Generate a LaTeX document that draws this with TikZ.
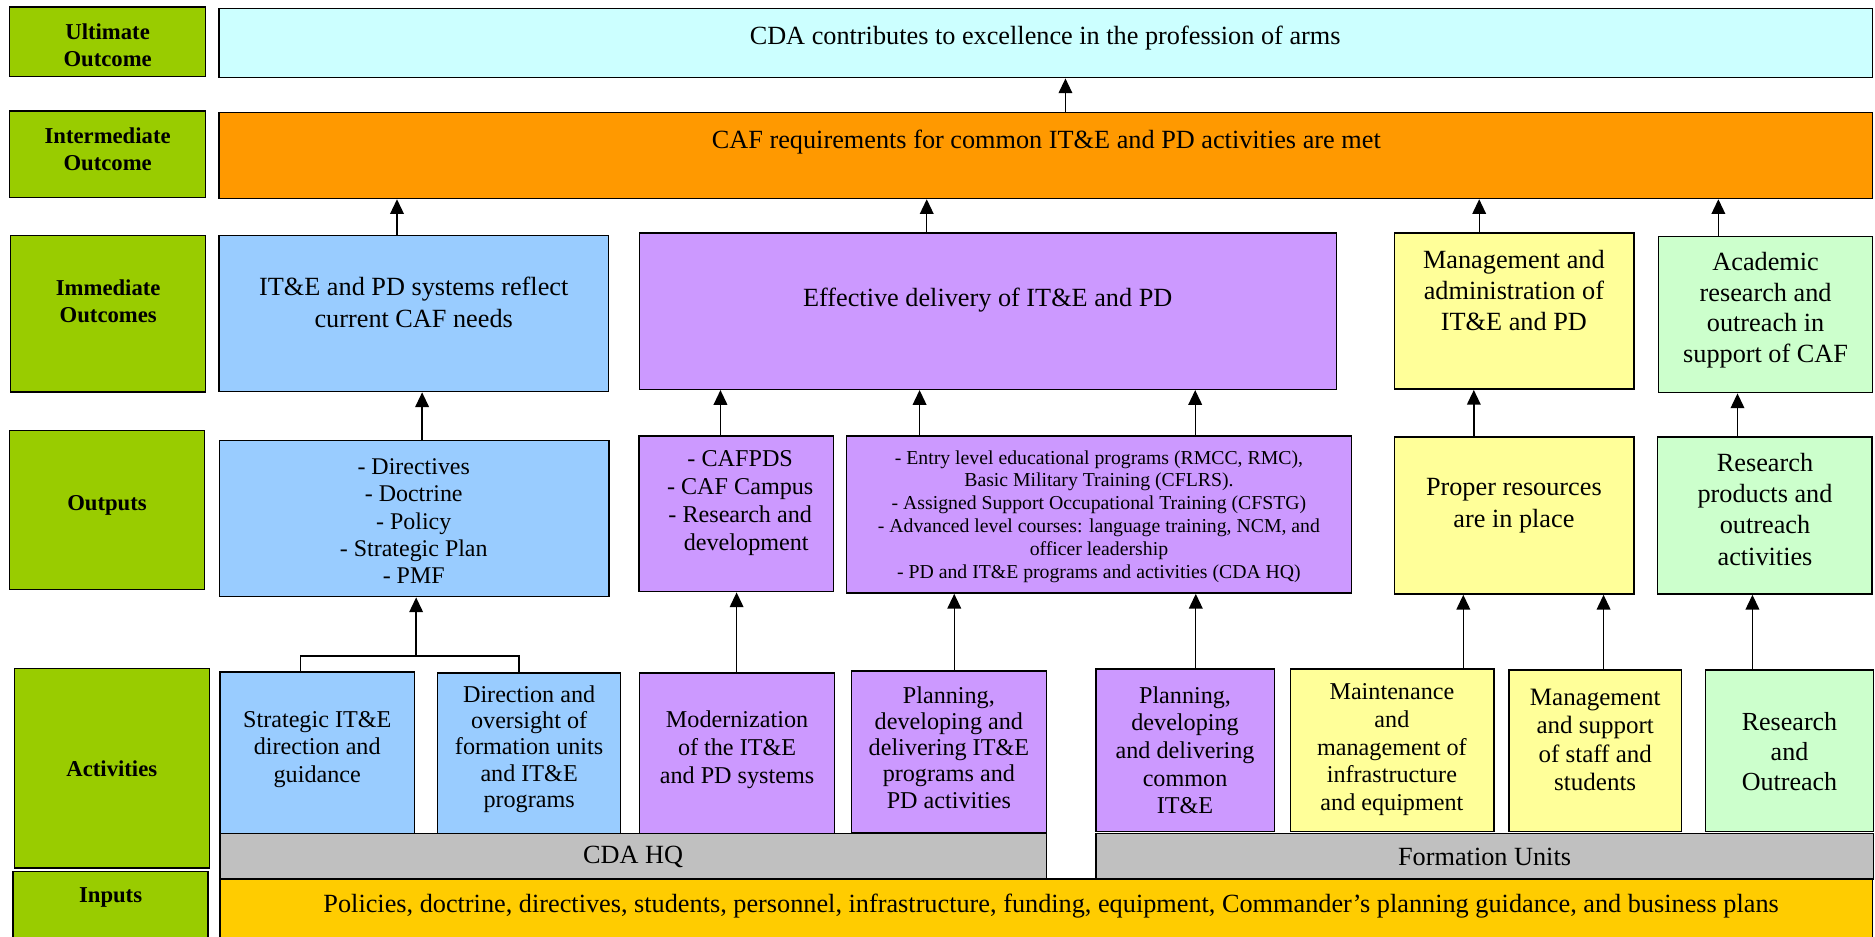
\documentclass[tikz,border=0pt]{standalone}
\usepackage{fontspec}
\IfFontExistsTF{LiberationSerif-Regular.ttf}
  {\setmainfont{LiberationSerif}[Extension=.ttf, UprightFont=*-Regular, BoldFont=*-Bold, ItalicFont=*-Italic, BoldItalicFont=*-BoldItalic]}
  {\setmainfont{Liberation Serif}[UprightFont={* Regular}, BoldFont={* Bold}]}
\usetikzlibrary{arrows.meta,fit}

\definecolor{lblgreen}{HTML}{99CC00}
\definecolor{ultcyan}{HTML}{CCFFFF}
\definecolor{intorange}{HTML}{FF9900}
\definecolor{sysblue}{HTML}{99CCFF}
\definecolor{dlvpurple}{HTML}{CC99FF}
\definecolor{mgtyellow}{HTML}{FFFF99}
\definecolor{resgreen}{HTML}{CCFFCC}
\definecolor{unitgray}{HTML}{C0C0C0}
\definecolor{inpgold}{HTML}{FFCC00}

\tikzset{
  box/.style={draw, line width=0.7pt, inner sep=0pt},
  lbl/.style={box, fill=lblgreen},
  lbltxt/.style={align=center, inner sep=0pt, font=\bfseries\fontsize{10.8}{13}\selectfont},
  txt/.style={align=center, inner sep=0pt, font=\fontsize{12.5}{15}\selectfont},
  acttxt/.style={align=center, inner sep=0pt, font=\fontsize{11.5}{13.2}\selectfont},
  smalltxt/.style={align=center, inner sep=0pt, font=\fontsize{9.4}{10.9}\selectfont},
  arr/.style={line width=0.65pt, -{Triangle[length=7pt,width=6.5pt]}},
}

\begin{document}
\begin{tikzpicture}[x=0.02cm, y=-0.02cm]
  \useasboundingbox (0,0) rectangle (1568,783);

  % Row labels
  \node[lbl, fit={(8,6) (172,64)}] (lult) {};
  \node[lbltxt] (lult-t) at (90,37.6) {Ultimate\\Outcome};
  \node[lbl, fit={(8,93) (172,165)}] (lint) {};
  \node[lbltxt] (lint-t) at (90,125) {Intermediate\\Outcome};
  \node[lbl, fit={(9,197) (172,328)}] (limm) {};
  \node[lbltxt] (limm-t) at (90.5,252) {Immediate\\Outcomes};
  \node[lbl, fit={(8,360) (171,493)}] (lout) {};
  \node[lbltxt] (lout-t) at (89.5,423) {Outputs};
  \node[lbl, fit={(12,559) (175,726)}] (lact) {};
  \node[lbltxt] (lact-t) at (93.5,642.5) {Activities};
  \node[lbl, fit={(11,729) (174,790)}] (linp) {};
  \node[lbltxt] (linp-t) at (92.5,750.6) {Inputs};

  % Ultimate and intermediate outcomes
  \node[box, fill=ultcyan, fit={(183,7) (1566,65)}] (ult) {};
  \node[txt] (ult-t) at (874,32) {CDA contributes to excellence in the profession of arms};
  \node[box, fill=intorange, fit={(183,94) (1566,166)}] (int) {};
  \node[txt] (int-t) at (875,118.5) {CAF requirements for common IT\&E and PD activities are met};

  % Immediate outcomes
  \node[box, fill=sysblue, fit={(183,197) (509,327.5)}] (imm1) {};
  \node[txt, font=\fontsize{12.5}{15.3}\selectfont] (imm1-t) at (346,253) {IT\&E and PD systems reflect\\current CAF needs};
  \node[box, fill=dlvpurple, fit={(535,195) (1117.5,325.6)}] (imm2) {};
  \node[txt] (imm2-t) at (826,251) {Effective delivery of IT\&E and PD};
  \node[box, fill=mgtyellow, fit={(1166,195) (1366.5,325.5)}] (imm3) {};
  \node[txt, font=\fontsize{12.5}{14.8}\selectfont] (imm3-t) at (1266,242.7) {Management and\\administration of\\IT\&E and PD};
  \node[box, fill=resgreen, fit={(1387,198) (1566,328.4)}] (imm4) {};
  \node[txt, font=\fontsize{12.5}{14.6}\selectfont] (imm4-t) at (1476.5,259.4) {Academic\\research and\\outreach in\\support of CAF};

  % Outputs
  \node[box, fill=sysblue, fit={(183.5,368.5) (509.3,499)}] (out1) {};
  \node[acttxt, font=\fontsize{11.4}{13}\selectfont] (out1-t) at (346,436) {- Directives\\- Doctrine\\- Policy\\- Strategic Plan\\- PMF};
  \node[box, fill=dlvpurple, fit={(534.4,364.6) (697.2,494.8)}] (out2) {};
  \node[acttxt] (out2-t) at (619,420.7) {- CAFPDS\\- CAF Campus\\- Research and\\\hspace*{0.5em}development};
  \node[box, fill=dlvpurple, fit={(708,364.6) (1130,496)}] (out3) {};
  \node[smalltxt] (out3-t) at (919,432) {- Entry level educational programs (RMCC, RMC),\\Basic Military Training (CFLRS).\\- Assigned Support Occupational Training (CFSTG)\\- Advanced level courses: language training, NCM, and\\officer leadership\\- PD and IT\&E programs and activities (CDA HQ)};
  \node[box, fill=mgtyellow, fit={(1166,365.6) (1366.5,496.8)}] (out4) {};
  \node[txt] (out4-t) at (1266,423) {Proper resources\\are in place};
  \node[box, fill=resgreen, fit={(1386,365.6) (1565.5,496.8)}] (out5) {};
  \node[txt, font=\fontsize{12.5}{14.8}\selectfont] (out5-t) at (1476,426) {Research\\products and\\outreach\\activities};

  % Activities
  \node[box, fill=sysblue, fit={(184,562) (346.6,697.6)}] (act1) {};
  \node[acttxt] (act1-t) at (265.3,626.8) {Strategic IT\&E\\direction and\\guidance};
  \node[box, fill=sysblue, fit={(366,563) (519,697)}] (act2) {};
  \node[acttxt, font=\fontsize{11.5}{12.5}\selectfont] (act2-t) at (442.5,626.4) {Direction and\\oversight of\\formation units\\and IT\&E\\programs};
  \node[box, fill=dlvpurple, fit={(535,563) (697.7,697)}] (act3) {};
  \node[acttxt] (act3-t) at (616.4,627) {Modernization\\of the IT\&E\\and PD systems};
  \node[box, fill=dlvpurple, fit={(712,561) (875,696)}] (act4) {};
  \node[acttxt, font=\fontsize{11.5}{12.5}\selectfont] (act4-t) at (793.5,625) {Planning,\\developing and\\delivering IT\&E\\programs and\\PD activities};
  \node[box, fill=dlvpurple, fit={(916.5,559.5) (1065.7,695.5)}] (act5) {};
  \node[acttxt] (act5-t) at (991,627.4) {Planning,\\developing\\and delivering\\common\\IT\&E};
  \node[box, fill=mgtyellow, fit={(1079,559.5) (1249.4,695.5)}] (act6) {};
  \node[acttxt] (act6-t) at (1164,627) {Maintenance\\and\\management of\\infrastructure\\and equipment};
  \node[box, fill=mgtyellow, fit={(1262,560.3) (1406.3,695.5)}] (act7) {};
  \node[acttxt, font=\fontsize{11.9}{13.6}\selectfont] (act7-t) at (1334,618.7) {Management\\and support\\of staff and\\students};
  \node[box, fill=resgreen, fit={(1426.4,560.3) (1566.6,695.5)}] (act8) {};
  \node[acttxt, font=\fontsize{12.4}{14.2}\selectfont] (act8-t) at (1496.5,628.5) {Research\\and\\Outreach};

  % Units and inputs
  \node[box, fill=unitgray, fit={(184,697) (875,735)}] (hq) {};
  \node[txt] (hq-t) at (529.5,717) {CDA HQ};
  \node[box, fill=unitgray, fit={(916.5,697) (1566.6,735)}] (fu) {};
  \node[txt] (fu-t) at (1241.5,717) {Formation Units};
  \node[box, fill=inpgold, fit={(184,735) (1566,790)}] (inp) {};
  \node[txt] (inp-t) at (879,758) {Policies, doctrine, directives, students, personnel, infrastructure, funding, equipment, Commander’s planning guidance, and business plans};

  % Arrows up to the outcomes
  \draw[arr] (int.north -| 891,0) -- (ult.south -| 891,0);
  \draw[arr] (imm1.north -| 332,0) -- (int.south -| 332,0);
  \draw[arr] (imm2.north -| 775,0) -- (int.south -| 775,0);
  \draw[arr] (imm3.north -| 1237,0) -- (int.south -| 1237,0);
  \draw[arr] (imm4.north -| 1437,0) -- (int.south -| 1437,0);
  % outputs to immediate outcomes
  \draw[arr] (out1.north -| 353,0) -- (imm1.south -| 353,0);
  \draw[arr] (out2.north -| 602.5,0) -- (imm2.south -| 602.5,0);
  \draw[arr] (out3.north -| 769,0) -- (imm2.south -| 769,0);
  \draw[arr] (out3.north -| 999.5,0) -- (imm2.south -| 999.5,0);
  \draw[arr] (out4.north -| 1232.5,0) -- (imm3.south -| 1232.5,0);
  \draw[arr] (out5.north -| 1453,0) -- (imm4.south -| 1453,0);
  % activities to outputs
  \coordinate (join) at (348,548.6);
  \draw[line width=0.65pt] (act1.north -| 251.5,0) |- (join) -| (act2.north -| 434,0);
  \draw[arr] (join) -- (out1.south -| join);
  \draw[arr] (act3.north -| 616,0) -- (out2.south -| 616,0);
  \draw[arr] (act4.north -| 798,0) -- (out3.south -| 798,0);
  \draw[arr] (act5.north -| 1000,0) -- (out3.south -| 1000,0);
  \draw[arr] (act6.north -| 1223.7,0) -- (out4.south -| 1223.7,0);
  \draw[arr] (act7.north -| 1341,0) -- (out4.south -| 1341,0);
  \draw[arr] (act8.north -| 1465.5,0) -- (out5.south -| 1465.5,0);
\end{tikzpicture}
\end{document}
